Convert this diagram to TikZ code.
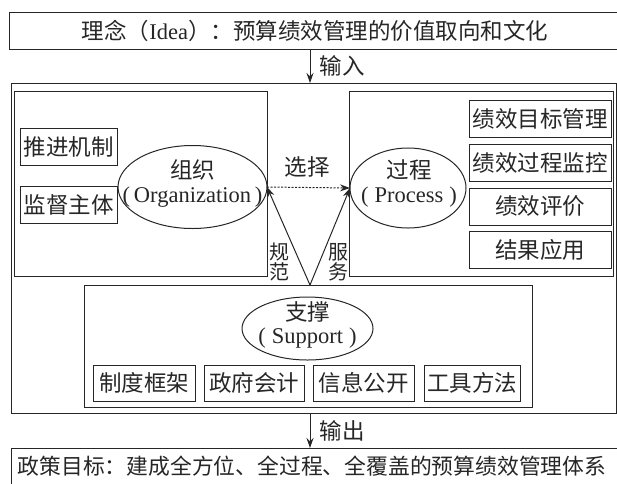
\documentclass[tikz,border=0pt]{standalone}
\usepackage{fontspec}
\setmainfont{Noto Sans CJK SC}
\newfontfamily\tms{Liberation Serif}
\usetikzlibrary{shapes.geometric,arrows.meta}
\tikzset{
  txt/.style={font=\fontsize{22.5}{26}\selectfont, inner sep=0pt, outer sep=0pt},
  frame/.style={draw, line width=1pt, inner sep=0pt, outer sep=0pt},
  itembox/.style={txt, draw, line width=1pt, minimum height=37pt},
  oval/.style={draw, line width=1pt, ellipse, inner sep=0pt, outer sep=0pt},
  ovaltxt/.style={txt, align=center},
  arr/.style={line width=1pt, -{Stealth[length=10pt,width=7pt]}},
  smalltxt/.style={txt, font=\fontsize{20}{20}\selectfont, align=center},
}
\begin{document}
\begin{tikzpicture}[x=1pt,y=-1pt,color=black!85]
\useasboundingbox (0,0) rectangle (617,483);
% top and bottom boxes
\node[frame, minimum width=616pt, minimum height=37pt] (idea) at (317,30.5) {};
\node[txt] (ideatxt) at (315,30.5) {理念（{\tms Idea}）：预算绩效管理的价值取向和文化};
\node[frame, minimum width=612pt, minimum height=38pt] (goal) at (317,467) {};
\node[txt, font=\fontsize{21.8}{26}\selectfont] (goaltxt) at (312,466.5)
  {政策目标：建成全方位、全过程、全覆盖的预算绩效管理体系};
% big outer box
\node[frame, anchor=north west, minimum width=605pt, minimum height=330pt] (outer) at (11,83) {};
\coordinate (axis) at (310,0);
\draw[arr] (idea.south -| axis) -- (outer.north -| axis);
\node[txt] (inlbl) at (342,66) {输入};
\draw[arr] (outer.south -| axis) -- (goal.north -| axis);
\node[txt] (outlbl) at (342,431) {输出};
% left inner box
\node[frame, anchor=north west, minimum width=253pt, minimum height=185pt] (leftbox) at (14,91) {};
\node[itembox, minimum width=97pt] (push) at (68.5,146.5) {推进机制};
\node[itembox, minimum width=97pt] (super) at (68.5,204.5) {监督主体};
\node[oval, minimum width=149pt, minimum height=83pt] (org) at (192.5,187) {};
\node[ovaltxt] (orgtxt) at (192.5,183) {组织\\[-2pt]{\tms(\,Organization\,)}};
% right inner box
\node[frame, anchor=north west, minimum width=264pt, minimum height=185pt] (rightbox) at (349,91) {};
\node[oval, minimum width=116pt, minimum height=80pt] (proc) at (408,188) {};
\node[ovaltxt] (proctxt) at (409,183) {过程\\[-2pt]{\tms(\hspace{6pt}Process\hspace{6pt})}};
\node[itembox, minimum width=142pt] (p1) at (540,118.5) {绩效目标管理};
\node[itembox, minimum width=142pt] (p2) at (540,163) {绩效过程监控};
\node[itembox, minimum width=142pt] (p3) at (540,206.5) {绩效评价};
\node[itembox, minimum width=142pt] (p4) at (540,250) {结果应用};
% support box
\node[frame, anchor=north west, minimum width=448pt, minimum height=122pt] (supbox) at (84,285) {};
\node[oval, minimum width=131pt, minimum height=63pt] (sup) at (307.5,328.5) {};
\node[ovaltxt] (suptxt) at (307.5,325) {支撑\\[-3pt]{\tms(\hspace{6pt}Support\hspace{6pt})}};
\node[itembox, minimum width=102pt, minimum height=36pt] (s1) at (144,383) {制度框架};
\node[itembox, minimum width=100pt, minimum height=36pt] (s2) at (254,383) {政府会计};
\node[itembox, minimum width=101pt, minimum height=36pt] (s3) at (363.5,383) {信息公开};
\node[itembox, minimum width=96pt, minimum height=36pt] (s4) at (472,383) {工具方法};
% triangle of arrows
\coordinate (apex) at (310,285);
\draw[arr] (apex) -- (org.east);
\draw[arr] (apex) -- (proc.west);
\draw[arr, dash pattern=on 2pt off 1.5pt] (org.east) -- (proc.west);
\node[txt] (choose) at (307,167) {选择};
\node[smalltxt] (norm) at (279,262) {规\\范};
\node[smalltxt] (serve) at (338,262) {服\\务};
\end{tikzpicture}
\end{document}
